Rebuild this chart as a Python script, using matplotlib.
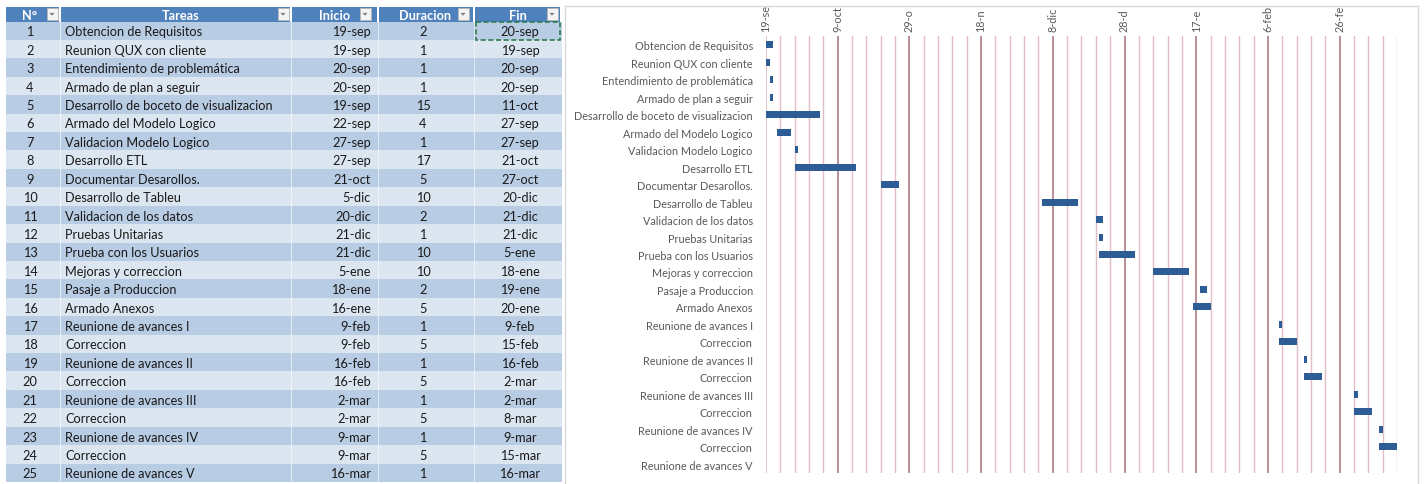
import datetime as dt

import matplotlib
matplotlib.use("Agg")
import matplotlib.pyplot as plt
import matplotlib.dates as mdates
from matplotlib.patches import Rectangle, Polygon

# ---------------------------------------------------------------- data
task_numbers = list(range(1, 26))
tasks = [
    "Obtencion de Requisitos",
    "Reunion QUX con cliente",
    "Entendimiento de problemática",
    "Armado de plan a seguir",
    "Desarrollo de boceto de visualizacion",
    "Armado del Modelo Logico",
    "Validacion Modelo Logico",
    "Desarrollo ETL",
    "Documentar Desarollos.",
    "Desarrollo de Tableu",
    "Validacion de los datos",
    "Pruebas Unitarias",
    "Prueba con los Usuarios",
    "Mejoras y correccion",
    "Pasaje a Produccion",
    "Armado Anexos",
    "Reunione de avances I",
    "Correccion",
    "Reunione de avances II",
    "Correccion",
    "Reunione de avances III",
    "Correccion",
    "Reunione de avances IV",
    "Correccion",
    "Reunione de avances V",
]
start_labels = [
    "19-sep", "19-sep", "20-sep", "20-sep", "19-sep", "22-sep", "27-sep",
    "27-sep", "21-oct", "5-dic", "20-dic", "21-dic", "21-dic", "5-ene",
    "18-ene", "16-ene", "9-feb", "9-feb", "16-feb", "16-feb", "2-mar",
    "2-mar", "9-mar", "9-mar", "16-mar",
]
durations = [2, 1, 1, 1, 15, 4, 1, 17, 5, 10, 2, 1, 10, 10, 2, 5,
             1, 5, 1, 5, 1, 5, 1, 5, 1]
end_labels = [
    "20-sep", "19-sep", "20-sep", "20-sep", "11-oct", "27-sep", "27-sep",
    "21-oct", "27-oct", "20-dic", "21-dic", "21-dic", "5-ene", "18-ene",
    "19-ene", "20-ene", "9-feb", "15-feb", "16-feb", "2-mar", "2-mar",
    "8-mar", "9-mar", "15-mar", "16-mar",
]
column_headers = ["N°", "Tareas", "Inicio", "Duracion", "Fin"]

axis_start = "19-sep"
axis_end = "14-mar"
major_step_days = 20
minor_step_days = 4
date_tick_labels = ["19-se", "9-oct", "29-o", "18-n", "8-dic", "28-d",
                    "17-e", "6-feb", "26-fe"]

# ---------------------------------------------------------------- helpers
MONTHS = {"sep": 9, "oct": 10, "nov": 11, "dic": 12,
          "ene": 1, "feb": 2, "mar": 3}


def to_date(label):
    day, mon = label.split("-")
    m = MONTHS[mon]
    year = 2016 if m >= 9 else 2017
    return dt.date(year, m, int(day))


FONT = "Lato"
TEXT_DARK = "#1a1a1a"
GREY = "#595959"
TABLE_FS = 9.2

W, H = 1424, 485
fig = plt.figure(figsize=(W / 100, H / 100), dpi=100)
fig.patch.set_facecolor("white")

# ---------------------------------------------------------------- table
tab = fig.add_axes([0, 0, 1, 1])
tab.set_xlim(0, W)
tab.set_ylim(H, 0)
tab.axis("off")

header_top, header_bot = 8.0, 22.5
row_h = 18.42
col_edges = [(6, 59), (61, 290), (292, 377), (379, 473), (475, 560)]
header_x = [30, 181, 335, 425, 518]
button_x = [52, 283, 365, 463, 552]

for (x0, x1), label, hx, bx in zip(col_edges, column_headers, header_x, button_x):
    tab.add_patch(Rectangle((x0, header_top), x1 - x0, header_bot - header_top,
                            facecolor="#4F81BD", edgecolor="none"))
    tab.text(hx, (header_top + header_bot) / 2 + 0.6, label, ha="center",
             va="center", color="white", fontweight="bold", fontsize=TABLE_FS,
             family=FONT)
    # filter drop-down button
    tab.add_patch(Rectangle((bx - 5.5, header_top + 1.2), 11, 12,
                            facecolor="#F4F4F4", edgecolor="#B7B7B7", lw=0.6))
    yc = header_top + 7.2
    tab.add_patch(Polygon([(bx - 2.6, yc - 1.3), (bx + 2.6, yc - 1.3),
                           (bx, yc + 1.5)], closed=True,
                          facecolor="#7F7F7F", edgecolor="none"))

for i, (num, task, s, d, e) in enumerate(zip(task_numbers, tasks, start_labels,
                                             durations, end_labels)):
    y0 = header_bot + i * row_h
    yc = y0 + row_h / 2 + 0.6
    bg = "#B8CCE4" if i % 2 == 0 else "#DCE6F1"
    for x0, x1 in col_edges:
        tab.add_patch(Rectangle((x0, y0), x1 - x0 + 2, row_h, facecolor=bg,
                                edgecolor="none"))
    kw = dict(va="center", color=TEXT_DARK, fontsize=TABLE_FS, family=FONT)
    tab.text(30, yc, str(num), ha="center", **kw)
    tab.text(65, yc, task, ha="left", **kw)
    tab.text(371, yc, s, ha="right", **kw)
    tab.text(423, yc, str(d), ha="center", **kw)
    tab.text(520, yc, e, ha="center", **kw)

# thin white column separators
for x0, x1 in col_edges[1:]:
    tab.plot([x0 - 1, x0 - 1], [header_bot, header_bot + 25 * row_h],
             color="white", lw=0.6, alpha=0.7)

# copy marquee around the first "Fin" cell
tab.add_patch(Rectangle((475.5, header_bot + 0.8), 84.5, row_h - 1.2,
                        facecolor="none", edgecolor="#2E7D4F", lw=1.2,
                        linestyle=(0, (3, 1.6))))

# chart frame
tab.add_patch(Rectangle((565, 7), 853, 490, facecolor="none",
                        edgecolor="#D9D9D9", lw=1.0))

# ---------------------------------------------------------------- gantt
px_left, px_right, px_top, px_bot = 766, 1397, 37, 474
ax = fig.add_axes([px_left / W, 1 - px_bot / H,
                   (px_right - px_left) / W, (px_bot - px_top) / H])
ax.set_facecolor("none")

starts = [mdates.date2num(to_date(s)) for s in start_labels]
ypos = list(range(len(tasks)))
ax.barh(ypos, durations, left=starts, height=0.4, color="#2E5C94",
        edgecolor="none", zorder=3)

x_min = mdates.date2num(to_date(axis_start))
x_max = mdates.date2num(to_date(axis_end))
ax.set_xlim(x_min, x_max)
ax.set_ylim(len(tasks) - 0.5, -0.5)

major = [x_min + k * major_step_days for k in range(len(date_tick_labels))]
minor = [x_min + k * minor_step_days
         for k in range(int((x_max - x_min) // minor_step_days) + 1)]
ax.set_xticks(major)
ax.set_xticks(minor, minor=True)
ax.set_xticklabels(date_tick_labels)
ax.xaxis.tick_top()
ax.tick_params(axis="x", which="both", length=0, pad=3.5, labelrotation=90,
               labelsize=7.8, labelcolor=GREY)
for lbl in ax.get_xticklabels():
    lbl.set_family(FONT)

ax.set_yticks(ypos)
ax.set_yticklabels(tasks)
ax.tick_params(axis="y", length=0, pad=9.5, labelsize=7.8, labelcolor=GREY)
for lbl in ax.get_yticklabels():
    lbl.set_family(FONT)

ax.grid(axis="x", which="minor", color="#E2BDC4", lw=1.0, zorder=0)
ax.grid(axis="x", which="major", color="#AE7A82", lw=1.2, zorder=0)
ax.xaxis.get_major_ticks()[0].gridline.set_color("#E2BDC4")
ax.set_axisbelow(True)
for sp in ax.spines.values():
    sp.set_visible(False)

fig.savefig("out.png", dpi=100, facecolor="white")
